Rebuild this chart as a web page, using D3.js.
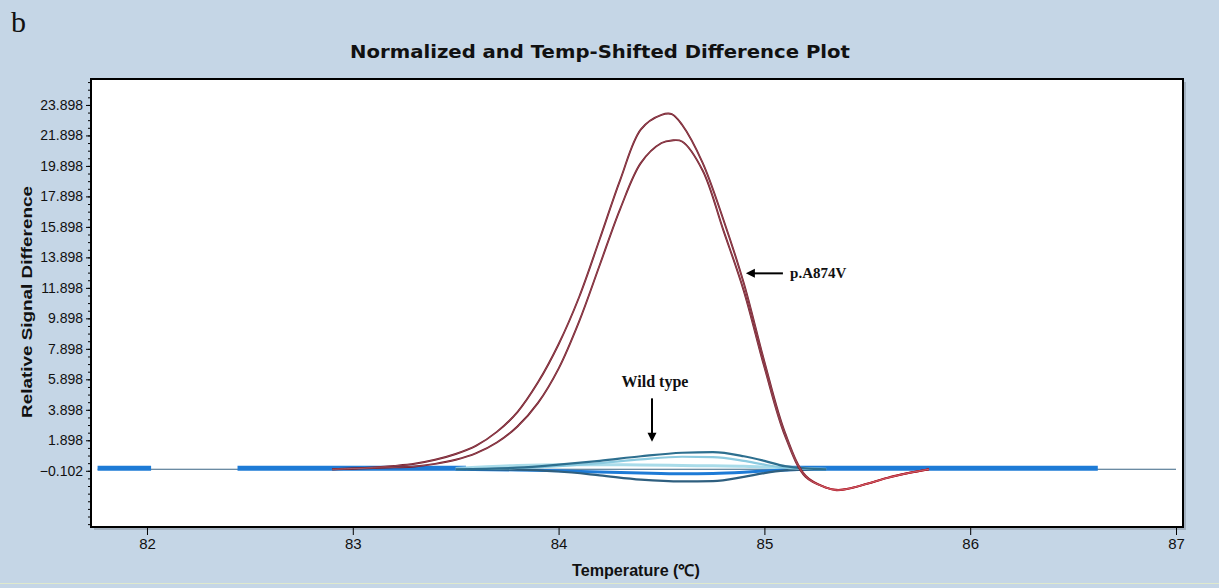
<!DOCTYPE html>
<html>
<head>
<meta charset="utf-8">
<script src="https://cdn.jsdelivr.net/npm/d3@7"></script>
<style>
  html, body { margin: 0; padding: 0; background: #c5d6e6; }
  svg { display: block; }
  .tick text { font-family: "Liberation Sans", Arial, sans-serif; fill: #111; }
</style>
</head>
<body>
<div class="chart-area"></div>
<script>
// mutant curves (p.A874V), shared temperature grid
var temps = [82.9, 83.0, 83.1, 83.2, 83.3, 83.4, 83.5, 83.6, 83.7, 83.8, 83.9, 84.0, 84.1, 84.2, 84.3, 84.4,
             84.5, 84.55, 84.6, 84.7, 84.8, 84.9, 85.0, 85.1, 85.2, 85.3, 85.35, 85.4, 85.5, 85.6, 85.7, 85.8];
var mutantA = [0.0, 0.05, 0.12, 0.22, 0.36, 0.62, 1.0, 1.55, 2.45, 3.75, 5.7, 8.2, 11.3, 15.1, 19.0, 22.3,
               23.25, 23.3, 22.6, 20.1, 16.4, 12.2, 7.05, 2.4, -0.42, -1.21, -1.38, -1.3, -0.95, -0.57, -0.25, 0.0];
var mutantB = [0.0, 0.03, 0.07, 0.12, 0.18, 0.35, 0.62, 1.05, 1.75, 2.8, 4.35, 6.6, 9.7, 13.4, 17.1, 20.1,
               21.4, 21.57, 21.5, 19.6, 15.7, 11.7, 6.7, 2.2, -0.5, -1.2, -1.35, -1.3, -0.95, -0.55, -0.25, 0.0];

// wild type curves
var wtTemps = [83.5, 83.8, 84.0, 84.2, 84.4, 84.6, 84.75, 84.9, 85.0, 85.1, 85.2, 85.3];
var wt1 = [0.0, 0.1, 0.3, 0.55, 0.85, 1.08, 1.12, 0.85, 0.55, 0.2, 0.05, 0.0];
var wt2 = [0.0, 0.08, 0.2, 0.4, 0.65, 0.82, 0.8, 0.55, 0.3, 0.1, 0.02, 0.0];
var wt3 = [0.0, -0.03, -0.15, -0.4, -0.68, -0.8, -0.78, -0.5, -0.25, -0.08, -0.02, 0.0];
var wt4 = [0.0, -0.05, -0.1, -0.18, -0.25, -0.3, -0.28, -0.2, -0.12, -0.05, 0.0, 0.0];
var wt5 = [0.05, 0.25, 0.3, 0.3, 0.28, 0.25, 0.22, 0.2, 0.15, 0.1, 0.05, 0.0];

// flat wild type traces along zero (start, end temperature)
var flatThick = [[81.76, 82.02], [82.44, 83.55], [85.1, 86.62]];
var flatThin = [[81.76, 87.0]];

// axis ticks
var xTicks = [82, 83, 84, 85, 86, 87];
var yTicks = [-0.102, 1.898, 3.898, 5.898, 7.898, 9.898, 11.898, 13.898, 15.898, 17.898, 19.898, 21.898, 23.898];

var width = 1219,
    height = 588,
    plotLeft = 91,
    plotRight = 1183,
    plotTop = 79,
    plotBottom = 527;

var x = d3.scaleLinear().domain([81.728, 87.034]).range([plotLeft, plotRight]);
var y = d3.scaleLinear().domain([-3.79, 25.6]).range([plotBottom, plotTop]);

var svg = d3.select(".chart-area")
            .append("svg")
            .attr("width", width)
            .attr("height", height);

svg.append("rect")
   .attr("width", width)
   .attr("height", height)
   .attr("fill", "#c5d6e6");

svg.append("line")
   .attr("x1", 0).attr("x2", width)
   .attr("y1", 583.5).attr("y2", 583.5)
   .attr("stroke", "#dfe9cc")
   .attr("stroke-width", 1);

// panel letter and title
svg.append("text")
   .attr("x", 11)
   .attr("y", 32)
   .attr("font-family", "'Liberation Serif', 'Times New Roman', serif")
   .attr("font-size", 30)
   .attr("fill", "#111")
   .text("b");

svg.append("text")
   .attr("x", 600)
   .attr("y", 58)
   .attr("text-anchor", "middle")
   .attr("font-family", "'DejaVu Sans', Verdana, sans-serif")
   .attr("font-weight", "bold")
   .attr("font-size", 17)
   .attr("textLength", 500)
   .attr("lengthAdjust", "spacingAndGlyphs")
   .attr("fill", "#111")
   .text("Normalized and Temp-Shifted Difference Plot");

// plot shadow + area
svg.append("rect")
   .attr("x", plotLeft + 3)
   .attr("y", plotTop + 3)
   .attr("width", plotRight - plotLeft)
   .attr("height", plotBottom - plotTop)
   .attr("fill", "#a3b1c0");

svg.append("rect")
   .attr("x", plotLeft)
   .attr("y", plotTop)
   .attr("width", plotRight - plotLeft)
   .attr("height", plotBottom - plotTop)
   .attr("fill", "#ffffff");

var plot = svg.append("g");

var line = d3.line()
             .x(function(d) { return x(d[0]) })
             .y(function(d) { return y(d[1]) })
             .curve(d3.curveMonotoneX);

var smoothLine = d3.line()
             .x(function(d) { return x(d[0]) })
             .y(function(d) { return y(d[1]) })
             .curve(d3.curveCatmullRom.alpha(0.5));

// flat traces
plot.selectAll(".flat-thin")
    .data(flatThin)
    .enter()
    .append("line")
    .attr("class", "flat-thin")
    .attr("x1", function(d) { return x(d[0]) })
    .attr("x2", function(d) { return x(d[1]) })
    .attr("y1", y(0))
    .attr("y2", y(0))
    .attr("stroke", "#3a6585")
    .attr("stroke-width", 1.2);

plot.selectAll(".flat-thick")
    .data(flatThick)
    .enter()
    .append("line")
    .attr("class", "flat-thick")
    .attr("x1", function(d) { return x(d[0]) })
    .attr("x2", function(d) { return x(d[1]) })
    .attr("y1", y(0) - 1)
    .attr("y2", y(0) - 1)
    .attr("stroke", "#1e7bd6")
    .attr("stroke-width", 5);

// wild type lens curves
var wtSeries = [wt5, wt4, wt3, wt2, wt1],
    wtColors = ["#a9dcea", "#1e7bd6", "#2f5f7f", "#8ccbe0", "#2d6f8f"],
    wtWidths = [3, 3, 2.2, 2.2, 2.2];

plot.selectAll(".wt")
    .data(wtSeries)
    .enter()
    .append("path")
    .attr("class", "wt")
    .attr("d", function(s) { return line(s.map(function(v, i) { return [wtTemps[i], v] })) })
    .attr("fill", "none")
    .attr("stroke", function(d, i) { return wtColors[i] })
    .attr("stroke-width", function(d, i) { return wtWidths[i] });

// mutant curves: dark red turning brighter red in the dip
var defs = svg.append("defs");
var grad = defs.append("linearGradient")
               .attr("id", "mutGrad")
               .attr("gradientUnits", "userSpaceOnUse")
               .attr("x1", x(85.12)).attr("x2", x(85.3))
               .attr("y1", 0).attr("y2", 0);
grad.append("stop").attr("offset", 0).attr("stop-color", "#6e1624");
grad.append("stop").attr("offset", 1).attr("stop-color", "#b0121f");

var mutants = [mutantA, mutantB];

plot.selectAll(".mut")
    .data(mutants)
    .enter()
    .append("path")
    .attr("class", "mut")
    .attr("d", function(s) { return smoothLine(s.map(function(v, i) { return [temps[i], v] })) })
    .attr("fill", "none")
    .attr("stroke", "url(#mutGrad)")
    .attr("stroke-width", 1.9);

plot.selectAll(".mut-core")
    .data(mutants)
    .enter()
    .append("path")
    .attr("class", "mut-core")
    .attr("d", function(s) { return smoothLine(s.map(function(v, i) { return [temps[i], v] })) })
    .attr("fill", "none")
    .attr("stroke", "#e3aab2")
    .attr("stroke-opacity", 0.55)
    .attr("stroke-width", 0.6);

// plot border
svg.append("rect")
   .attr("x", plotLeft)
   .attr("y", plotTop)
   .attr("width", plotRight - plotLeft)
   .attr("height", plotBottom - plotTop)
   .attr("fill", "none")
   .attr("stroke", "#000")
   .attr("stroke-width", 2);

// axes
var yMinor = d3.range(-3.602, 25.5, 0.5);

svg.append("g")
   .attr("transform", "translate(" + plotLeft + ",0)")
   .call(d3.axisLeft(y).tickValues(yMinor).tickSize(3).tickFormat(""))
   .call(function(g) { g.select(".domain").remove() });

var yAxis = svg.append("g")
   .attr("transform", "translate(" + plotLeft + ",0)")
   .call(d3.axisLeft(y).tickValues(yTicks).tickSize(5).tickPadding(3).tickFormat(d3.format(".3f")));
yAxis.select(".domain").remove();
yAxis.selectAll("text").attr("font-size", 14);

var xAxis = svg.append("g")
   .attr("transform", "translate(0," + plotBottom + ")")
   .call(d3.axisBottom(x).tickValues(xTicks).tickSize(8).tickPadding(3).tickFormat(d3.format("d")));
xAxis.select(".domain").remove();
xAxis.selectAll("text").attr("font-size", 15);

// axis titles
svg.append("text")
   .attr("transform", "translate(32,302) rotate(-90)")
   .attr("text-anchor", "middle")
   .attr("font-family", "'Liberation Sans', Arial, sans-serif")
   .attr("font-weight", "bold")
   .attr("font-size", 14)
   .attr("textLength", 232)
   .attr("lengthAdjust", "spacingAndGlyphs")
   .attr("fill", "#111")
   .text("Relative Signal Difference");

svg.append("text")
   .attr("x", 636)
   .attr("y", 576)
   .attr("text-anchor", "middle")
   .attr("font-family", "'Liberation Sans', Arial, sans-serif")
   .attr("font-weight", "bold")
   .attr("font-size", 16)
   .attr("textLength", 128)
   .attr("lengthAdjust", "spacingAndGlyphs")
   .attr("fill", "#111")
   .text("Temperature (℃)");

// annotations
var serif = "'Liberation Serif', 'Times New Roman', serif";

// p.A874V arrow pointing left at falling side
var aTip = [84.91, 12.85], aTail = [85.09, 12.85];
svg.append("line")
   .attr("x1", x(aTip[0]) + 7).attr("x2", x(aTail[0]))
   .attr("y1", y(aTip[1])).attr("y2", y(aTail[1]))
   .attr("stroke", "#000")
   .attr("stroke-width", 2);
svg.append("path")
   .attr("d", "M" + x(aTip[0]) + "," + y(aTip[1]) + "l9,-4.5l0,9z")
   .attr("fill", "#000");
svg.append("text")
   .attr("x", x(85.125))
   .attr("y", y(aTip[1]) + 5)
   .attr("font-family", serif)
   .attr("font-weight", "bold")
   .attr("font-size", 15)
   .attr("fill", "#111")
   .text("p.A874V");

// wild type arrow pointing down
var wTip = [84.454, 1.8], wTail = [84.454, 4.65];
svg.append("line")
   .attr("x1", x(wTail[0])).attr("x2", x(wTip[0]))
   .attr("y1", y(wTail[1])).attr("y2", y(wTip[1]) - 7)
   .attr("stroke", "#000")
   .attr("stroke-width", 2);
svg.append("path")
   .attr("d", "M" + x(wTip[0]) + "," + y(wTip[1]) + "l-4.5,-9l9,0z")
   .attr("fill", "#000");
svg.append("text")
   .attr("x", x(84.454) + 3)
   .attr("y", y(5.4))
   .attr("text-anchor", "middle")
   .attr("font-family", serif)
   .attr("font-weight", "bold")
   .attr("font-size", 16)
   .attr("fill", "#111")
   .text("Wild type");
</script>
</body>
</html>
